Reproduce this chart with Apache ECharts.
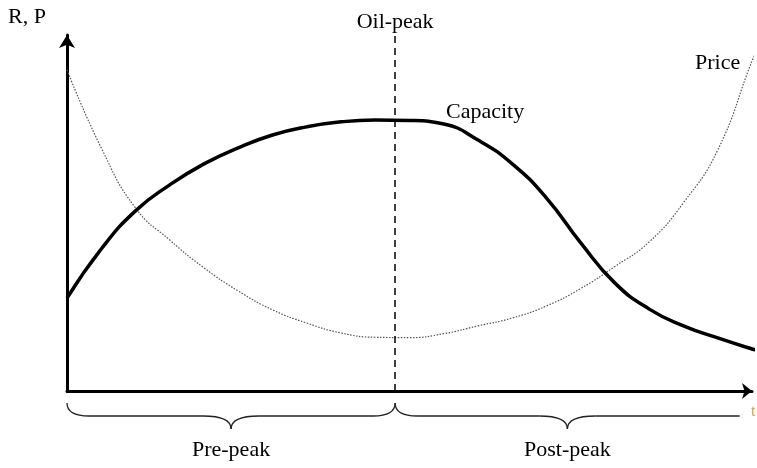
<!DOCTYPE html>
<html>
<head>
<meta charset="utf-8">
<script src="https://cdn.jsdelivr.net/npm/echarts@6/dist/echarts.min.js"></script>
<style>
html, body { margin: 0; background: #fff; }
#main { width: 757px; height: 468px; }
</style>
</head>
<body>
<div id="main"></div>
<script>
// time steps shared by both curves
var timeSteps = [0, 5, 10, 15, 20, 25, 30, 35, 40, 45, 50, 55, 60, 65, 70, 75, 80, 85, 90, 95, 100, 100.7];
// capacity curve (R)
var capacity = [26.1, 39.9, 50.6, 57.9, 63.8, 68.3, 71.9, 74.2, 75.6, 76.1, 76.0, 75.0, 70.5, 63.8, 54.2, 41.6, 30.3, 23.0, 18.3, 14.9, 11.8, 11.5];
// price curve (P)
var price = [90.2, 68.3, 51.4, 42.4, 34.6, 28.1, 22.8, 19.1, 16.3, 15.1, 15.0, 16.1, 18.3, 20.5, 23.9, 28.8, 35.0, 41.9, 52.9, 67.7, 92.7, 95.5];
var peakT = 47.9;
var phaseNames = ['Pre-peak', 'Post-peak'];
var phaseBounds = [0, 47.9, 98.2];

function pairs(xs, ys) {
  return xs.map(function (x, i) { return [x, ys[i]]; });
}

var serif = '"Liberation Serif", "DejaVu Serif", serif';

var option = {
  animation: false,
  grid: { left: 67, right: 5, top: 35, bottom: 77 },
  xAxis: {
    type: 'value', min: 0, max: 100,
    axisLine: { show: true, symbol: ['none', 'arrow'], symbolSize: [12, 10], lineStyle: { color: '#000', width: 3 } },
    axisTick: { show: false }, axisLabel: { show: false }, splitLine: { show: false }
  },
  yAxis: {
    type: 'value', min: 0, max: 100,
    axisLine: { show: true, symbol: ['none', 'arrow'], symbolSize: [12, 13], lineStyle: { color: '#000', width: 3 } },
    axisTick: { show: false }, axisLabel: { show: false }, splitLine: { show: false }
  },
  series: [
    {
      name: 'Price', type: 'line', data: pairs(timeSteps, price),
      smooth: 0.5, showSymbol: false, clip: false,
      lineStyle: { color: '#555', width: 1.2, type: [1.5, 1.5] }
    },
    {
      name: 'Capacity', type: 'line', data: pairs(timeSteps, capacity),
      smooth: 0.5, showSymbol: false, clip: false,
      lineStyle: { color: '#000', width: 3.5 },
      markLine: {
        silent: true, symbol: ['none', 'none'], label: { show: false },
        lineStyle: { color: '#000', width: 1.5, type: [7, 5] },
        data: [{ xAxis: peakT }]
      }
    }
  ]
};

var chartDom = document.getElementById('main');
var myChart = echarts.init(chartDom);
myChart.setOption(option);

// braces under the time axis, placed from axis values
var graphics = [];
var yTop = 403, yMid = 416, yTip = 429;
var braceStyle = { fill: 'none', stroke: '#222', lineWidth: 1.3 };
function curve(x1, y1, cx, cy, x2, y2) {
  return { type: 'bezierCurve', shape: { x1: x1, y1: y1, cpx1: cx, cpy1: cy, x2: x2, y2: y2 }, style: braceStyle };
}
function seg(x1, y1, x2, y2) {
  return { type: 'line', shape: { x1: x1, y1: y1, x2: x2, y2: y2 }, style: braceStyle };
}
for (var i = 0; i < phaseNames.length; i++) {
  var x0 = myChart.convertToPixel({ gridIndex: 0 }, [phaseBounds[i], 0])[0];
  var x1 = myChart.convertToPixel({ gridIndex: 0 }, [phaseBounds[i + 1], 0])[0];
  var xm = (x0 + x1) / 2;
  graphics.push(curve(x0, yTop, x0, yMid, x0 + 22, yMid));
  graphics.push(seg(x0 + 22, yMid, xm - 28, yMid));
  graphics.push(curve(xm - 28, yMid, xm, yMid, xm, yTip));
  graphics.push(curve(xm, yTip, xm, yMid, xm + 28, yMid));
  if (i === 0) {
    graphics.push(seg(xm + 28, yMid, x1 - 22, yMid));
    graphics.push(curve(x1 - 22, yMid, x1, yMid, x1, yTop));
  } else {
    graphics.push(seg(xm + 28, yMid, x1, yMid));
  }
  graphics.push({
    type: 'text', x: xm, y: 450,
    style: { text: phaseNames[i], font: '22px ' + serif, fill: '#000', align: 'center', verticalAlign: 'middle' }
  });
}
var peakX = myChart.convertToPixel({ gridIndex: 0 }, [peakT, 0])[0];
graphics.push(
  { type: 'text', x: 8, y: 17, style: { text: 'R, P', font: '22px ' + serif, fill: '#000', verticalAlign: 'middle' } },
  { type: 'text', x: peakX, y: 22, style: { text: 'Oil-peak', font: '22px ' + serif, fill: '#000', align: 'center', verticalAlign: 'middle' } },
  { type: 'text', x: 446, y: 112, style: { text: 'Capacity', font: '22px ' + serif, fill: '#000', verticalAlign: 'middle' } },
  { type: 'text', x: 695, y: 63, style: { text: 'Price', font: '22px ' + serif, fill: '#000', verticalAlign: 'middle' } },
  { type: 'text', x: 751, y: 412, style: { text: 't', font: '16px ' + serif, fill: '#e0a040', verticalAlign: 'middle' } }
);
myChart.setOption({ graphic: graphics });
</script>
</body>
</html>
